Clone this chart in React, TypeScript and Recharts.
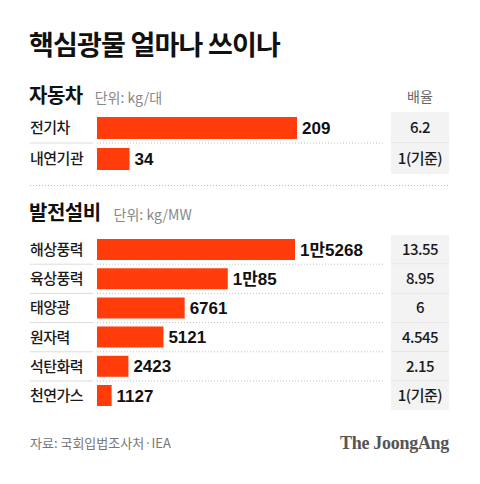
import { Bar, BarChart, LabelList, XAxis, YAxis } from 'recharts';

const carNames = ['전기차', '내연기관'];
const carValues = [209, 34];
const carRatios = ['6.2', '1(기준)'];

const powerNames = ['해상풍력', '육상풍력', '태양광', '원자력', '석탄화력', '천연가스'];
const powerValues = [15268, 10085, 6761, 5121, 2423, 1127];
const powerRatios = ['13.55', '8.95', '6', '4.545', '2.15', '1(기준)'];

const BAR_COLOR = '#ff3c0a';
const KR_FONT = '"Noto Sans CJK KR", "Noto Sans", sans-serif';
const NUM_FONT = '"Liberation Sans", "Noto Sans CJK KR", sans-serif';

function formatKoreanNumber(v: number): string {
  if (v >= 10000) return `${Math.floor(v / 10000)}만${v % 10000}`;
  return String(v);
}

type SectionProps = {
  names: string[];
  values: number[];
  ratios: string[];
  top: number;
  rowHeight: number;
  plotWidth: number;
  barSize: number;
  boxPadTop: number;
};

function Section({ names, values, ratios, top, rowHeight, plotWidth, barSize, boxPadTop }: SectionProps) {
  const data = names.map((name, i) => ({ name, value: values[i], ratio: ratios[i] }));
  const n = data.length;
  const height = n * rowHeight;
  const rightWidth = 480 - 97 - plotWidth;

  const NameTick = (props: any) => {
    const { y, payload } = props;
    const i = payload?.index ?? props.index ?? 0;
    const sepY = y + rowHeight / 2;
    return (
      <g>
        <text x={30} y={y} dy={5.5} fontSize={15} fontWeight={500} fill="#1a1a1a" letterSpacing={-0.5}>
          {payload.value}
        </text>
        {i < n - 1 && (
          <>
            <line x1={30} x2={93} y1={sepY} y2={sepY} stroke="#dcdcdc" strokeWidth={1} />
            <line x1={97} x2={383} y1={sepY} y2={sepY} stroke="#c4c4c4" strokeWidth={1} strokeDasharray="1 2" />
          </>
        )}
      </g>
    );
  };

  const RatioTick = (props: any) => {
    const { y, payload } = props;
    const i = payload?.index ?? props.index ?? 0;
    const pad = i === 0 ? boxPadTop : 0;
    const y0 = y - rowHeight / 2 - pad;
    return (
      <g>
        <rect x={391} y={y0} width={58} height={rowHeight + pad} fill="#f3f3f3" />
        {i < n - 1 && (
          <line x1={391} x2={449} y1={y + rowHeight / 2} y2={y + rowHeight / 2} stroke="#dadada" strokeWidth={1} />
        )}
        <text x={420} y={y} dy={5.5} textAnchor="middle" fontSize={15} fontWeight={500} fill="#1a1a1a" letterSpacing={-0.5}>
          {data[i].ratio}
        </text>
      </g>
    );
  };

  return (
    <div style={{ position: 'absolute', left: 0, top, width: 480, height }}>
      <BarChart
        width={480}
        height={height}
        data={data}
        layout="vertical"
        margin={{ top: 0, right: 0, bottom: 0, left: 30 }}
        barCategoryGap={(rowHeight - barSize) / 2}
      >
        <XAxis type="number" hide domain={[0, 'dataMax']} />
        <YAxis
          yAxisId="names"
          type="category"
          dataKey="name"
          width={67}
          axisLine={false}
          tickLine={false}
          interval={0}
          tick={NameTick}
        />
        <YAxis
          yAxisId="ratios"
          orientation="right"
          type="category"
          dataKey="name"
          width={rightWidth}
          axisLine={false}
          tickLine={false}
          interval={0}
          tick={RatioTick}
        />
        <Bar dataKey="value" yAxisId="names" fill={BAR_COLOR} barSize={barSize} isAnimationActive={false}>
          <LabelList
            dataKey="value"
            position="right"
            offset={5}
            formatter={(v: any) => formatKoreanNumber(Number(v))}
            style={{ fontFamily: NUM_FONT, fontSize: 17, fontWeight: 700, fill: '#111' }}
          />
        </Bar>
      </BarChart>
    </div>
  );
}

export default function App() {
  return (
    <div
      style={{
        position: 'fixed',
        left: 0,
        top: 0,
        width: 480,
        height: 484,
        background: '#fff',
        fontFamily: KR_FONT,
        overflow: 'hidden',
      }}
    >
      <div
        style={{
          position: 'absolute',
          left: 29,
          top: 30,
          fontSize: 27,
          fontWeight: 700,
          lineHeight: 1,
          color: '#111',
          letterSpacing: -0.8,
          whiteSpace: 'nowrap',
        }}
      >
        핵심광물 얼마나 쓰이나
      </div>

      <div style={{ position: 'absolute', left: 29, top: 85, display: 'flex', alignItems: 'baseline', lineHeight: 1 }}>
        <span style={{ fontSize: 20, fontWeight: 700, color: '#111', letterSpacing: -0.5 }}>자동차</span>
        <span style={{ fontSize: 14, color: '#888', marginLeft: 12 }}>단위: kg/대</span>
      </div>
      <div
        style={{
          position: 'absolute',
          left: 391,
          width: 58,
          top: 89,
          textAlign: 'center',
          fontSize: 14,
          color: '#666',
          lineHeight: 1,
        }}
      >
        배율
      </div>

      <Section
        names={carNames}
        values={carValues}
        ratios={carRatios}
        top={112}
        rowHeight={31}
        plotWidth={200}
        barSize={22}
        boxPadTop={0}
      />

      <svg style={{ position: 'absolute', left: 0, top: 180 }} width={480} height={10}>
        <line x1={30} x2={449} y1={5.5} y2={5.5} stroke="#bdbdbd" strokeDasharray="1 2" />
      </svg>

      <div style={{ position: 'absolute', left: 29, top: 202, display: 'flex', alignItems: 'baseline', lineHeight: 1 }}>
        <span style={{ fontSize: 20, fontWeight: 700, color: '#111', letterSpacing: -0.5 }}>발전설비</span>
        <span style={{ fontSize: 14, color: '#888', marginLeft: 13 }}>단위: kg/MW</span>
      </div>

      <Section
        names={powerNames}
        values={powerValues}
        ratios={powerRatios}
        top={235}
        rowHeight={29.2}
        plotWidth={198}
        barSize={21}
        boxPadTop={7}
      />

      <div
        style={{
          position: 'absolute',
          left: 30,
          top: 436,
          fontSize: 13,
          color: '#777',
          lineHeight: 1,
          whiteSpace: 'nowrap',
        }}
      >
        자료: 국회입법조사처·IEA
      </div>
      <div
        style={{
          position: 'absolute',
          right: 31,
          top: 434,
          fontFamily: '"Liberation Serif", "DejaVu Serif", serif',
          fontSize: 18,
          fontWeight: 700,
          color: '#555',
          lineHeight: 1,
          letterSpacing: -0.3,
          whiteSpace: 'nowrap',
        }}
      >
        The JoongAng
      </div>
    </div>
  );
}
